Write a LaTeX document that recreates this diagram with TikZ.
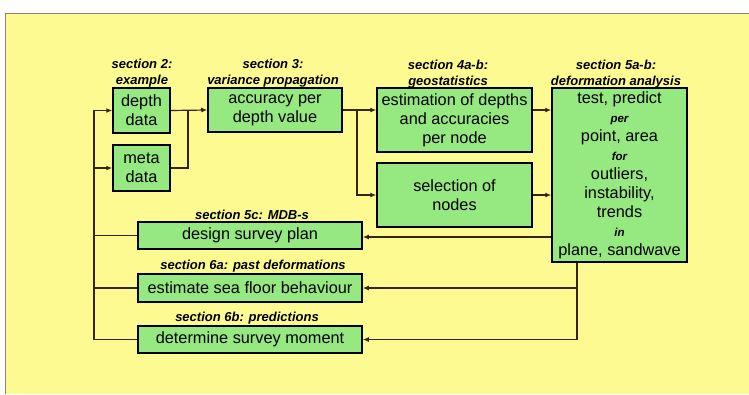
\documentclass[tikz,border=0pt]{standalone}
\usepackage{fontspec}
\setmainfont{Liberation Sans}
\usepackage{xcolor}
\usetikzlibrary{arrows.meta}

\definecolor{paper}{RGB}{252,250,145}
\definecolor{boxgreen}{RGB}{150,232,128}
\definecolor{wirecol}{RGB}{55,35,15}

\tikzset{
  box/.style={draw=black, line width=1.5pt, fill=boxgreen, inner sep=0pt, align=center, font=\fontsize{16.3}{19}\selectfont},
  sec/.style={inner sep=0pt, align=center, font=\fontsize{13}{16}\selectfont\bfseries\itshape},
  wire/.style={draw=wirecol, line width=1.2pt},
  arr/.style={wire, -{Latex[length=6pt,width=5pt]}},
}
\newcommand{\smallword}[1]{{\fontsize{11.5}{19}\selectfont\bfseries\itshape #1}}

\begin{document}
\begin{tikzpicture}[x=1pt, y=-1pt]
        \useasboundingbox (0,0) rectangle (749,394);
        \fill[white] (0,0) rectangle (749,394);
        \fill[paper] (5,13) rectangle (749,394);
        \draw[gray!60!brown, line width=0.6pt] (5,394) -- (5,13) -- (749,13);

        \node[box, minimum width=57, minimum height=45] (depth) at (141.5,110.5) {depth\\data};
        \node[box, minimum width=57, minimum height=46] (meta) at (141.5,168) {meta\\data};
        \node[box, minimum width=134, minimum height=44] (accuracy) at (275,110) {accuracy per\\depth value};
        \node[box, minimum width=155, minimum height=64] (estimation) at (454.5,120) {estimation of depths\\and accuracies\\per node};
        \node[box, minimum width=155, minimum height=64] (selection) at (454.5,195) {selection of\\nodes};
        \node[box, minimum width=135, minimum height=174] (defo) at (619.5,175) {test, predict\\ \smallword{per}\\ point, area\\ \smallword{for}\\ outliers,\\ instability,\\ trends\\ \smallword{in}\\ plane, sandwave};
        \node[box, minimum width=224, minimum height=27] (design) at (250,235.5) {design survey plan};
        \node[box, minimum width=224, minimum height=28] (estimate) at (250,288) {estimate sea floor behaviour};
        \node[box, minimum width=224, minimum height=27] (determine) at (250,339.5) {determine survey moment};

        \node[sec] (sec2) at (142,73) {section 2:\\example};
        \node[sec] (sec3) at (273,73) {section 3:\\variance propagation};
        \node[sec] (sec4) at (448,74) {section 4a-b:\\geostatistics};
        \node[sec] (sec5) at (616,74) {section 5a-b:\\deformation analysis};
        \node[sec] (sec5c) at (252,215) {section 5c: MDB-s};
        \node[sec] (sec6a) at (253,266) {section 6a: past deformations};
        \node[sec] (sec6b) at (247,318) {section 6b: predictions};

        \coordinate (bus) at (94,0);
        \coordinate (join) at (188,0);
        \coordinate (split) at (357,0);
        \coordinate (drop) at (577,0);

        \draw[arr] (determine.west) -- (bus |- determine.west) -- (bus |- depth.west) -- (depth.west);
        \draw[arr] (bus |- meta.west) -- (meta.west);
        \draw[wire] (design.west) -- (bus |- design.west);
        \draw[wire] (estimate.west) -- (bus |- estimate.west);

        \draw[arr] (depth.east) -- (accuracy.west);
        \draw[wire] (meta.east) -| (join |- depth.east);
        \draw[arr] (accuracy.east) -- (accuracy.east -| estimation.west);
        \draw[arr] (split |- accuracy.east) |- (selection.west);
        \draw[arr] (estimation.east |- accuracy.east) -- (defo.west |- accuracy.east);
        \draw[arr] (selection.east) -- (selection.east -| defo.west);

        \draw[arr] (defo.west |- 0,237) -- (design.east |- 0,237);
        \draw[arr] (drop |- defo.south) |- (estimate.east);
        \draw[arr] (drop |- estimate.east) |- (determine.east);
    \end{tikzpicture}
\end{document}
